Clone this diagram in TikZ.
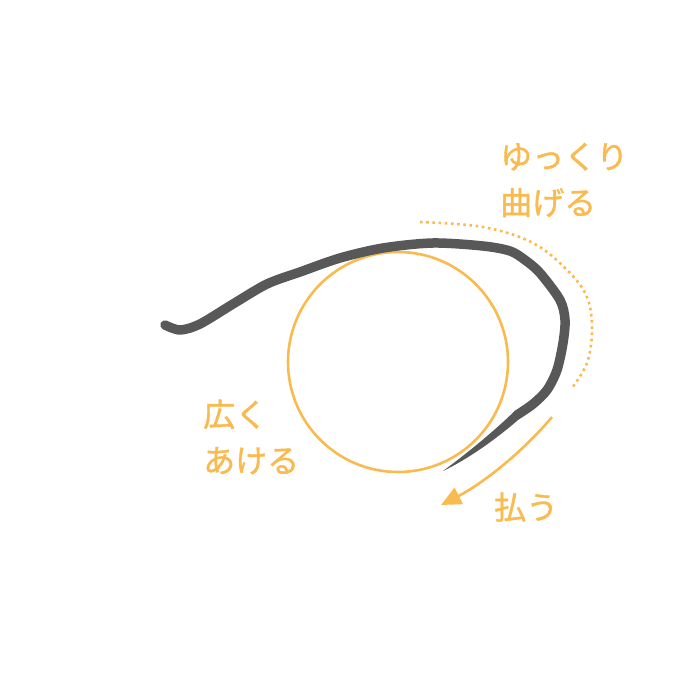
\documentclass[tikz,border=0pt]{standalone}
\usepackage{fontspec}
\newfontfamily\cjk[FakeBold=1.2]{Noto Sans CJK JP}
\usetikzlibrary{arrows.meta}
\definecolor{accent}{HTML}{F9BA50}
\definecolor{ink}{HTML}{585858}
\tikzset{
  label/.style={anchor=west, inner sep=0pt, text=accent, font=\cjk\fontsize{32}{46}\selectfont, align=left},
  brush/.style={draw=ink, line cap=round, line join=round},
  guide/.style={draw=accent, line width=2.6pt},
}
\begin{document}
\begin{tikzpicture}[x=1pt,y=-1pt]
\useasboundingbox (0,0) rectangle (700,700);
% circle
\node[guide, circle, minimum size=220pt, inner sep=0pt] (ring) at (398,362) {};
% brush stroke
\draw[brush, line width=9.5pt] plot[smooth, tension=0.5] coordinates {
 (165,325) (180,330) (200,324) (233,304) (267,284) (300,272) (340,258) (383,248)
 (433,243) (483,246) (510,251) (525,260) (540,273) (560,300) (565,320) (563,343)
 (557,370) (547,390) (533,404) (517,415)};
% tapered tail
\fill[ink] (519.8,418.5) .. controls (495,440) and (468,459) .. (443,471)
  .. controls (466,454) and (492,433) .. (514.2,411.5) -- cycle;
% dotted guide
\draw[accent, line width=2.6pt, dash pattern=on 2.6pt off 3.6pt] plot[smooth, tension=0.6] coordinates {
 (420,222) (483,227) (533,243) (567,270) (587,297) (592,330) (587,363) (572,388)};
% arrow
\coordinate (a0) at (552,417);
\coordinate (a1) at (441,505);
\draw[accent, line width=2.6pt, -{Triangle[length=20pt,width=18pt]}] (a0) .. controls (520,455) and (480,485) .. (a1);
% labels
\node[label] (slow) at (500,180) {ゆっくり\\曲げる};
\node[label] (wide) at (203,437) {広く\\あける};
\node[label] (flick) at (494,507) {払う};
\end{tikzpicture}
\end{document}
